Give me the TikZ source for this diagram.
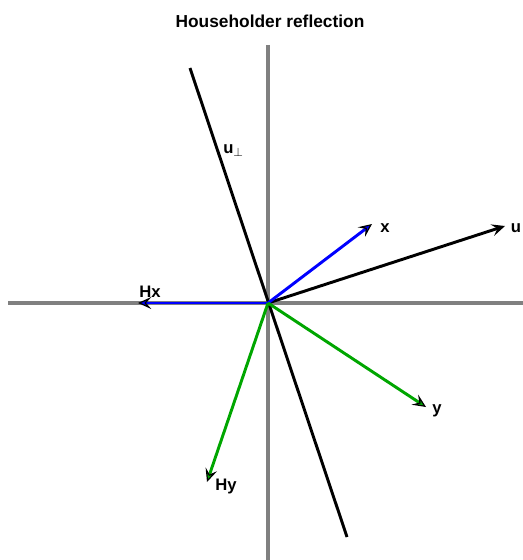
\documentclass[tikz,border=0pt]{standalone}
\usepackage{fontspec}
\setmainfont{Liberation Sans}
\usetikzlibrary{arrows.meta}
\begin{document}
\begin{tikzpicture}[x=0.75pt,y=-0.75pt,
  axis/.style={draw=gray,line width=2.4pt},
  vec/.style={line width=2.2pt,-{Stealth[length=10pt,width=9pt,inset=4pt,color=black,fill=#1,line width=0.9pt]},draw=#1},
  lbl/.style={font=\bfseries\fontsize{12.5}{14}\selectfont,inner sep=0pt}]
\useasboundingbox (0,0) rectangle (523,560);
\coordinate (O) at (268,303);
\coordinate (axL) at (8,303);
\coordinate (axR) at (523,303);
\coordinate (axT) at (268,45);
\coordinate (axB) at (268,560);
\coordinate (pT) at (190,68);
\coordinate (pB) at (347,537);
\coordinate (U) at (505,226);
\coordinate (X) at (372,224);
\coordinate (HX) at (138,303);
\coordinate (Y) at (426,407);
\coordinate (HY) at (207,482);
\node[font=\bfseries\fontsize{13}{15}\selectfont] (title) at (270,21) {Householder reflection};
\draw[axis] (axL) -- (axR);
\draw[axis] (axT) -- (axB);
\draw[line width=2.2pt] (pT) -- (pB);
\draw[vec=black] (O) -- (U);
\draw[vec=blue] (O) -- (X);
\draw[vec=blue] (O) -- (HX);
\draw[vec=green!65!black] (O) -- (Y);
\draw[vec=green!65!black] (O) -- (HY);
\node[lbl] (lx) at (385,228) {x};
\node[lbl] (lu) at (516,228) {u};
\node[lbl] (lhx) at (150,292) {Hx};
\node[lbl] (ly) at (437,411) {y};
\node[lbl] (lhy) at (226,486) {Hy};
\node[lbl,anchor=west] (lp) at (223,151) {u$_{\perp}$};
\end{tikzpicture}
\end{document}
